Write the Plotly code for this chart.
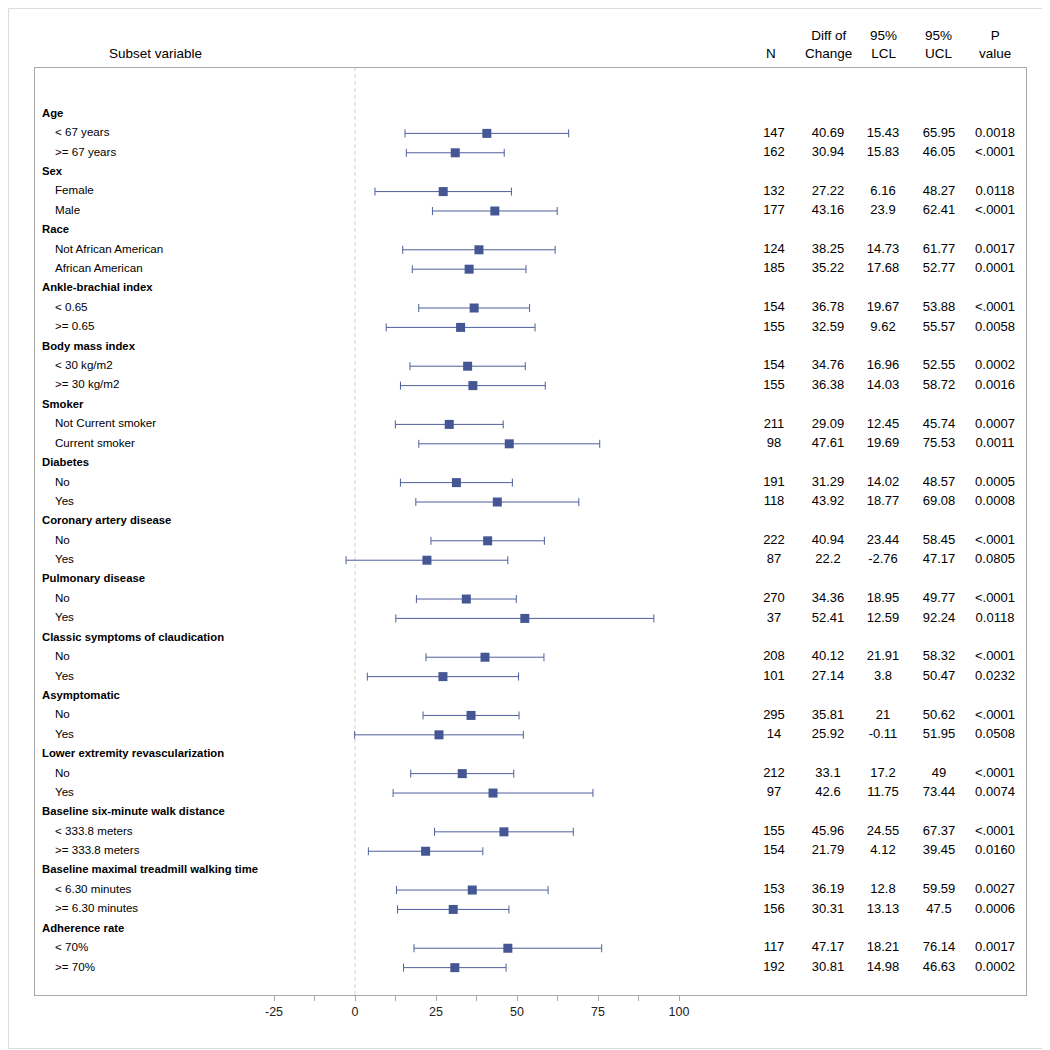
import plotly.graph_objects as go

# subset variables and their levels
groups = [
    "Age", "Sex", "Race", "Ankle-brachial index", "Body mass index", "Smoker",
    "Diabetes", "Coronary artery disease", "Pulmonary disease",
    "Classic symptoms of claudication", "Asymptomatic",
    "Lower extremity revascularization", "Baseline six-minute walk distance",
    "Baseline maximal treadmill walking time", "Adherence rate",
]
levels = [
    "< 67 years", ">= 67 years",
    "Female", "Male",
    "Not African American", "African American",
    "< 0.65", ">= 0.65",
    "< 30 kg/m2", ">= 30 kg/m2",
    "Not Current smoker", "Current smoker",
    "No", "Yes",
    "No", "Yes",
    "No", "Yes",
    "No", "Yes",
    "No", "Yes",
    "No", "Yes",
    "< 333.8 meters", ">= 333.8 meters",
    "< 6.30 minutes", ">= 6.30 minutes",
    "< 70%", ">= 70%",
]
n = [147, 162, 132, 177, 124, 185, 154, 155, 154, 155, 211, 98, 191, 118, 222,
     87, 270, 37, 208, 101, 295, 14, 212, 97, 155, 154, 153, 156, 117, 192]
diff = [40.69, 30.94, 27.22, 43.16, 38.25, 35.22, 36.78, 32.59, 34.76, 36.38,
        29.09, 47.61, 31.29, 43.92, 40.94, 22.2, 34.36, 52.41, 40.12, 27.14,
        35.81, 25.92, 33.1, 42.6, 45.96, 21.79, 36.19, 30.31, 47.17, 30.81]
lcl = [15.43, 15.83, 6.16, 23.9, 14.73, 17.68, 19.67, 9.62, 16.96, 14.03,
       12.45, 19.69, 14.02, 18.77, 23.44, -2.76, 18.95, 12.59, 21.91, 3.8,
       21, -0.11, 17.2, 11.75, 24.55, 4.12, 12.8, 13.13, 18.21, 14.98]
ucl = [65.95, 46.05, 48.27, 62.41, 61.77, 52.77, 53.88, 55.57, 52.55, 58.72,
       45.74, 75.53, 48.57, 69.08, 58.45, 47.17, 49.77, 92.24, 58.32, 50.47,
       50.62, 51.95, 49, 73.44, 67.37, 39.45, 59.59, 47.5, 76.14, 46.63]
pval = ["0.0018", "<.0001", "0.0118", "<.0001", "0.0017", "0.0001", "<.0001",
        "0.0058", "0.0002", "0.0016", "0.0007", "0.0011", "0.0005", "0.0008",
        "<.0001", "0.0805", "<.0001", "0.0118", "<.0001", "0.0232", "<.0001",
        "0.0508", "<.0001", "0.0074", "<.0001", "0.0160", "0.0027", "0.0006",
        "0.0017", "0.0002"]
xticks = [-25, -12.5, 0, 12.5, 25, 37.5, 50, 62.5, 75, 87.5, 100]
xticklabels = ["-25", "", "0", "", "25", "", "50", "", "75", "", "100"]

# row positions: each group takes a header row then its two levels
group_rows = [3 * g for g in range(len(groups))]
level_rows = [3 * (i // 2) + 1 + i % 2 for i in range(len(levels))]

blue = "#445694"
font = "Liberation Sans, Arial, sans-serif"

fig = go.Figure()

fig.add_trace(go.Scatter(
    x=diff, y=level_rows,
    mode="markers",
    marker=dict(symbol="square", size=9, color=blue),
    error_x=dict(
        type="data", symmetric=False,
        array=[u - d for u, d in zip(ucl, diff)],
        arrayminus=[d - l for d, l in zip(diff, lcl)],
        color="#4f5f9c", thickness=1, width=4,
    ),
    showlegend=False, hoverinfo="skip",
))

def text_col(xpos, ys, texts, pos="middle center", size=13):
    fig.add_trace(go.Scatter(
        x=[xpos] * len(ys), y=ys, text=texts,
        mode="text", textposition=pos,
        textfont=dict(family=font, size=size, color="black"),
        xaxis="x2", yaxis="y",
        showlegend=False, hoverinfo="skip", cliponaxis=False,
    ))

# left labels
text_col(42, group_rows, ["<b>%s</b>" % g for g in groups], "middle right", 11.3)
text_col(55, level_rows, levels, "middle right", 11.6)

# right-hand statistics columns
text_col(774, level_rows, [str(v) for v in n])
text_col(828, level_rows, ["%g" % v for v in diff])
text_col(883, level_rows, ["%g" % v for v in lcl])
text_col(939, level_rows, ["%g" % v for v in ucl])
text_col(995, level_rows, pval)

headers = [(155, "Subset variable"), (771, "N"), (828, "Diff of<br>Change"),
           (883, "95%<br>LCL"), (939, "95%<br>UCL"), (995, "P<br>value")]
for hx, ht in headers:
    fig.add_annotation(
        x=hx, y=1, xref="x2", yref="paper",
        text=ht, showarrow=False,
        xanchor="center", yanchor="bottom", yshift=5,
        font=dict(family=font, size=13.5, color="black"),
    )

# reference line at zero
fig.add_shape(
    type="line", x0=0, x1=0, y0=0, y1=1, xref="x", yref="paper",
    line=dict(color="#cfcfcf", width=1, dash="4px,3px"), layer="below",
)

# outer border
fig.add_shape(
    type="rect", x0=-0.0267, x1=1.0222, y0=-0.0577, y1=1.0642,
    xref="paper", yref="paper",
    line=dict(color="#dcdcdc", width=1),
)

fig.update_layout(
    width=1042, height=1042,
    margin=dict(l=27, r=24, t=60, b=55),
    plot_bgcolor="white", paper_bgcolor="white",
    font=dict(family=font, size=12, color="#222222"),
    xaxis=dict(
        range=[-98.77, 207.1], tickvals=xticks, ticktext=xticklabels,
        ticks="outside", ticklen=5, tickcolor="#a8a8a8",
        showline=True, linecolor="#a8a8a8", mirror=True,
        showgrid=False, zeroline=False,
        tickfont=dict(family=font, size=12.5, color="#222222"),
    ),
    xaxis2=dict(
        range=[35, 1026], overlaying="x", visible=False,
    ),
    yaxis=dict(
        range=[45.41, -2.37], showticklabels=False, ticks="",
        showline=True, linecolor="#a8a8a8", mirror=True,
        showgrid=False, zeroline=False,
    ),
)

fig.write_html("out.html")
